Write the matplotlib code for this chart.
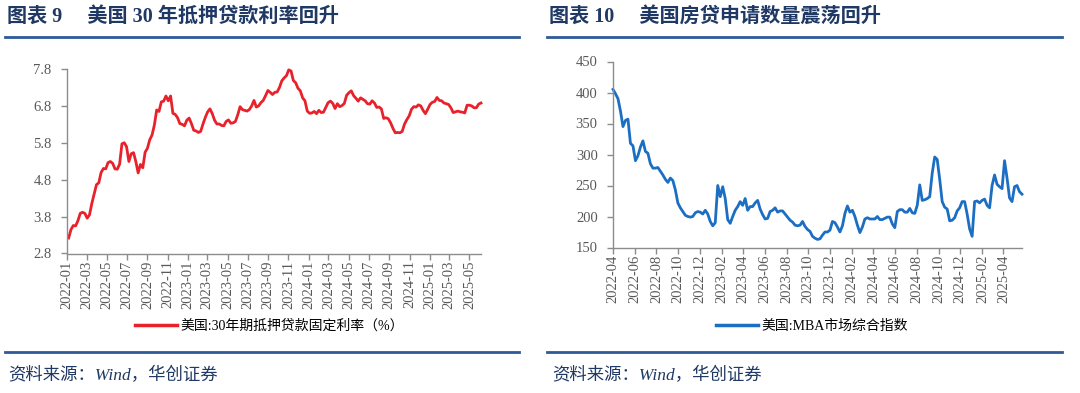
import matplotlib
matplotlib.use("Agg")
import matplotlib.pyplot as plt
from matplotlib.lines import Line2D
import pandas as pd

# ---------------- data ----------------
rate_start = "2022-01-06"
rate_values = [
    # 2022
    3.22, 3.45, 3.56, 3.55,
    3.69, 3.89, 3.92, 3.89,
    3.76, 3.85, 4.16, 4.42, 4.67,
    4.72, 5.00, 5.11, 5.10,
    5.27, 5.30, 5.25, 5.10,
    5.09, 5.23, 5.78, 5.81, 5.70,
    5.30, 5.51, 5.54, 5.30,
    4.99, 5.22, 5.13, 5.55,
    5.66, 5.89, 6.02, 6.29, 6.70,
    6.66, 6.92, 6.94, 7.08,
    6.95, 7.08, 6.61, 6.58, 6.49,
    6.33, 6.31, 6.27, 6.42,
    # 2023
    6.48, 6.33, 6.15, 6.13,
    6.09, 6.12, 6.32, 6.50, 6.65,
    6.73, 6.60, 6.42, 6.32, 6.32,
    6.28, 6.27, 6.39, 6.43,
    6.34, 6.35, 6.39, 6.57,
    6.79, 6.71, 6.69, 6.67, 6.71,
    6.81, 6.96, 6.78, 6.81,
    6.90, 6.96, 7.09, 7.23, 7.18,
    7.12, 7.18, 7.19, 7.31,
    7.49, 7.57, 7.63, 7.79,
    7.76, 7.50, 7.44, 7.29, 7.22,
    7.03, 6.95, 6.67, 6.61,
    # 2024
    6.62, 6.66, 6.60, 6.69, 6.63,
    6.64, 6.77, 6.90, 6.94,
    6.88, 6.74, 6.87, 6.79,
    6.82, 6.88, 7.10, 7.17,
    7.22, 7.09, 7.02, 6.94, 7.03,
    6.99, 6.95, 6.87, 6.86,
    6.95, 6.89, 6.77, 6.78, 6.73,
    6.47, 6.49, 6.46, 6.35,
    6.20, 6.08, 6.09, 6.08,
    6.12, 6.32, 6.44, 6.54,
    6.72, 6.79, 6.78, 6.84, 6.81,
    6.69, 6.60, 6.72, 6.85,
    # 2025
    6.91, 6.93, 7.04, 6.96, 6.95,
    6.89, 6.87, 6.85, 6.76,
    6.63, 6.65, 6.67, 6.65,
    6.64, 6.62, 6.83, 6.83, 6.81,
    6.76, 6.76, 6.86, 6.89,
]
rate_ticks = ["2022-01", "2022-03", "2022-05", "2022-07", "2022-09", "2022-11",
              "2023-01", "2023-03", "2023-05", "2023-07", "2023-09", "2023-11",
              "2024-01", "2024-03", "2024-05", "2024-07", "2024-09", "2024-11",
              "2025-01", "2025-03", "2025-05"]
rate_yticks = [2.8, 3.8, 4.8, 5.8, 6.8, 7.8]

mba_start = "2022-04-01"
mba_values = [
    405, 398, 390, 370, 345, 355, 357, 318, 314, 290,
    298, 312, 322, 305, 302, 285, 278, 278, 279, 273,
    267, 260, 255, 262, 258, 243, 222, 214, 208, 202,
    200, 199, 200, 206, 208, 207, 204, 210, 204, 192,
    185, 190, 250, 232, 248, 229, 195, 189, 200, 210,
    216, 224, 218, 229, 210, 216, 216, 222, 226, 212,
    203, 196, 197, 208, 210, 214, 207, 209, 209, 204,
    199, 194, 191, 186, 185, 186, 192, 184, 179, 176,
    168, 165, 163, 164, 170, 175, 175, 178, 192, 190,
    183, 175, 185, 205, 217, 207, 210, 200, 186, 174,
    183, 196, 198, 196, 196, 196, 200, 195, 195, 197,
    199, 199, 188, 182, 208, 211, 211, 207, 207, 213,
    206, 205, 218, 251, 226, 227, 229, 232, 270, 296,
    292, 260, 224, 215, 212, 193, 194, 198, 209, 214,
    224, 224, 204, 180, 168, 224, 225, 222, 226, 228,
    218, 214, 250, 267, 252, 248, 245, 290, 262, 230,
    224, 248, 250, 240, 236,
]
mba_ticks = ["2022-04", "2022-06", "2022-08", "2022-10", "2022-12",
             "2023-02", "2023-04", "2023-06", "2023-08", "2023-10", "2023-12",
             "2024-02", "2024-04", "2024-06", "2024-08", "2024-10", "2024-12",
             "2025-02", "2025-04"]
mba_yticks = [150, 200, 250, 300, 350, 400, 450]

title_left = "图表 9 　美国 30 年抵押贷款利率回升"
title_right = "图表 10 　美国房贷申请数量震荡回升"
legend_left = "美国:30年期抵押贷款固定利率（%）"
legend_right = "美国:MBA市场综合指数"
source_text = "资料来源：Wind，华创证券"

# ---------------- style ----------------
W, H = 1080, 393
NAVY = "#1F3864"
RULE = "#2E5A97"
RED = "#E8212B"
BLUE = "#1C6EC3"
SPINE = "#8C8C8C"
TICKC = "#595959"
SERIF_CJK = ["Liberation Serif", "Noto Sans CJK SC"]

fig = plt.figure(figsize=(W / 100, H / 100), dpi=100)
fig.patch.set_facecolor("white")


def px_axes(x0, y0, x1, y1):
    return fig.add_axes([x0 / W, 1 - y1 / H, (x1 - x0) / W, (y1 - y0) / H])


def hline(x0, x1, y):
    fig.add_artist(Line2D([x0 / W, x1 / W], [1 - y / H, 1 - y / H],
                          transform=fig.transFigure, color=RULE, lw=2.0))


def style_axes(ax):
    for s in ["top", "right"]:
        ax.spines[s].set_visible(False)
    for s in ["left", "bottom"]:
        ax.spines[s].set_color(SPINE)
        ax.spines[s].set_linewidth(1.0)
    ax.tick_params(axis="both", direction="out", length=4, width=1.0,
                   color=SPINE, labelcolor=TICKC, labelsize=10.5)
    ax.tick_params(axis="y", pad=7)
    ax.tick_params(axis="x", pad=1)
    for lab in ax.get_xticklabels() + ax.get_yticklabels():
        lab.set_fontfamily("Liberation Serif")


# ---------------- left chart ----------------
rate_dates = pd.date_range(rate_start, periods=len(rate_values), freq="7D")
axL = px_axes(67, 69.5, 481, 253.5)
axL.plot(rate_dates, rate_values, color=RED, lw=2.0, solid_joinstyle="round",
         clip_on=False)
axL.set_ylim(2.8, 7.8)
axL.set_yticks(rate_yticks)
axL.set_yticklabels([f"{v:.1f}" for v in rate_yticks])
tick_dates = pd.to_datetime([t + "-01" for t in rate_ticks])
axL.set_xticks(tick_dates)
axL.set_xticklabels(rate_ticks, rotation=90)
axL.set_xlim(pd.Timestamp("2022-01-01"), rate_dates[-1])
style_axes(axL)
axL.legend([Line2D([], [], color=RED, lw=2.5)], [legend_left],
           loc="center left", bbox_to_anchor=(128 / W, 1 - 326 / H),
           bbox_transform=fig.transFigure, frameon=False,
           handlelength=3.0, handletextpad=0.3, borderpad=0,
           prop={"family": SERIF_CJK, "size": 10})

# ---------------- right chart ----------------
mba_dates = pd.date_range(mba_start, periods=len(mba_values), freq="7D")
axR = px_axes(613, 61.5, 1022, 247.5)
axR.plot(mba_dates, mba_values, color=BLUE, lw=2.0, solid_joinstyle="round",
         clip_on=False)
axR.set_ylim(150, 450)
axR.set_yticks(mba_yticks)
axR.set_yticklabels([str(v) for v in mba_yticks])
tick_dates_r = pd.to_datetime([t + "-01" for t in mba_ticks])
axR.set_xticks(tick_dates_r)
axR.set_xticklabels(mba_ticks, rotation=90)
axR.set_xlim(pd.Timestamp("2022-04-01"), mba_dates[-1])
style_axes(axR)
axR.legend([Line2D([], [], color=BLUE, lw=2.5)], [legend_right],
           loc="center left", bbox_to_anchor=(709 / W, 1 - 326 / H),
           bbox_transform=fig.transFigure, frameon=False,
           handlelength=3.0, handletextpad=0.3, borderpad=0,
           prop={"family": SERIF_CJK, "size": 10})

# ---------------- titles, rules, sources ----------------
fig.text(7 / W, 1 - 17 / H, title_left, color=NAVY, fontsize=14.5,
         fontweight="bold", family=SERIF_CJK, va="center", ha="left")
fig.text(549 / W, 1 - 17 / H, title_right, color=NAVY, fontsize=14.5,
         fontweight="bold", family=SERIF_CJK, va="center", ha="left")
hline(5, 519, 37)
hline(547, 1062, 37)
hline(5, 519, 352)
hline(547, 1062, 352)
fig.text(8 / W, 1 - 376 / H, source_text, color=NAVY, fontsize=12.5,
         style="italic", family=SERIF_CJK, va="center", ha="left")
fig.text(552 / W, 1 - 376 / H, source_text, color=NAVY, fontsize=12.5,
         style="italic", family=SERIF_CJK, va="center", ha="left")

fig.savefig("out.png", dpi=100, facecolor="white")
